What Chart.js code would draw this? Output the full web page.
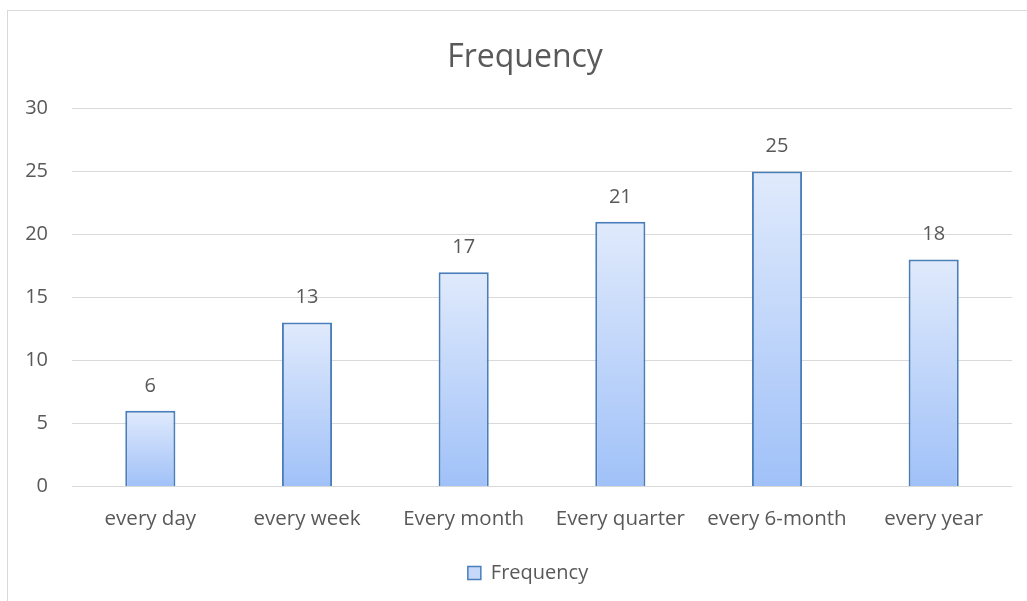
<!DOCTYPE html>
<html>
<head>
<meta charset="utf-8">
<script src="https://cdn.jsdelivr.net/npm/chart.js@4/dist/chart.umd.min.js"></script>
<style>
  html, body { margin: 0; padding: 0; background: #ffffff; }
  #wrap { width: 1027px; height: 601px; position: relative; }
</style>
</head>
<body>
<div id="wrap"><canvas id="chart" width="1027" height="601"></canvas></div>
<script>
const categories = ['every day', 'every week', 'Every month', 'Every quarter', 'every 6-month', 'every year'];
const frequency = [6, 13, 17, 21, 25, 18];
const seriesName = 'Frequency';
const yTicks = [0, 5, 10, 15, 20, 25, 30];

const FONT = '"Open Sans", "DejaVu Sans", sans-serif';
const TEXT = '#595959';
const GRID = '#d9d9d9';
const EDGE = '#4a7ebb';
const TOP_FILL = '#e0eafc';
const BOTTOM_FILL = '#a0c1f8';

// vertical gradient spanning each bar from its top down to the baseline
function barFill(ctx) {
  const chart = ctx.chart;
  const y = chart.scales && chart.scales.y;
  if (!chart.chartArea || !y || ctx.type !== 'data') return '#c4d8fa';
  const top = y.getPixelForValue(ctx.raw);
  const base = y.getPixelForValue(0);
  const g = chart.ctx.createLinearGradient(0, top, 0, base);
  g.addColorStop(0, TOP_FILL);
  g.addColorStop(1, BOTTOM_FILL);
  return g;
}

// thin grey frame around the whole chart; it runs on past the right and bottom edges
const frame = {
  id: 'frame',
  beforeDraw(chart) {
    const c = chart.ctx;
    c.save();
    c.strokeStyle = '#d9d9d9';
    c.lineWidth = 1;
    c.strokeRect(7.5, 10.5, 1040, 620);
    c.restore();
  }
};

// title and legend are centred on that wider frame rather than on the canvas
const centreOnFrame = {
  id: 'centreOnFrame',
  afterLayout(chart) {
    if (chart.titleBlock) { chart.titleBlock.left += 15; chart.titleBlock.right += 15; }
    if (chart.legend) { chart.legend.left += 18; chart.legend.right += 18; }
  }
};

// value written above every bar
const valueLabels = {
  id: 'valueLabels',
  afterDatasetsDraw(chart) {
    const c = chart.ctx;
    const meta = chart.getDatasetMeta(0);
    c.save();
    c.font = '20px ' + FONT;
    c.fillStyle = TEXT;
    c.textAlign = 'center';
    c.textBaseline = 'middle';
    meta.data.forEach((bar, i) => {
      c.fillText(String(chart.data.datasets[0].data[i]), bar.x, bar.y - 25);
    });
    c.restore();
  }
};

new Chart(document.getElementById('chart'), {
  type: 'bar',
  data: {
    labels: categories,
    datasets: [{
      label: seriesName,
      data: frequency,
      backgroundColor: barFill,
      borderColor: EDGE,
      borderWidth: 2,
      borderSkipped: 'bottom',
      categoryPercentage: 1,
      barPercentage: 0.32
    }]
  },
  options: {
    responsive: false,
    animation: false,
    events: [],
    layout: { padding: { left: 8, right: 15, top: 12, bottom: 8 } },
    scales: {
      x: {
        grid: { display: false, drawTicks: false },
        border: { display: false },
        ticks: { color: TEXT, font: { family: FONT, size: 20.5 }, padding: 20, maxRotation: 0 }
      },
      y: {
        min: 0,
        max: 30,
        afterBuildTicks(axis) { axis.ticks = yTicks.map(v => ({ value: v })); },
        afterFit(axis) { axis.width = 64; },
        grid: { color: GRID, lineWidth: 1, drawTicks: false },
        border: { display: false },
        ticks: { color: TEXT, font: { family: FONT, size: 20 }, padding: 24 }
      }
    },
    plugins: {
      title: {
        display: true,
        text: seriesName,
        color: TEXT,
        font: { family: FONT, size: 32, weight: 'normal' },
        padding: { top: 27, bottom: 31 }
      },
      legend: {
        position: 'bottom',
        labels: {
          color: TEXT,
          font: { family: FONT, size: 20 },
          boxWidth: 13,
          boxHeight: 13,
          padding: 12,
          generateLabels(chart) {
            return [{
              text: seriesName,
              fillStyle: '#c6d9fa',
              strokeStyle: EDGE,
              lineWidth: 1.5,
              fontColor: TEXT,
              datasetIndex: 0
            }];
          }
        }
      },
      tooltip: { enabled: false }
    }
  },
  plugins: [frame, centreOnFrame, valueLabels]
});
</script>
</body>
</html>
